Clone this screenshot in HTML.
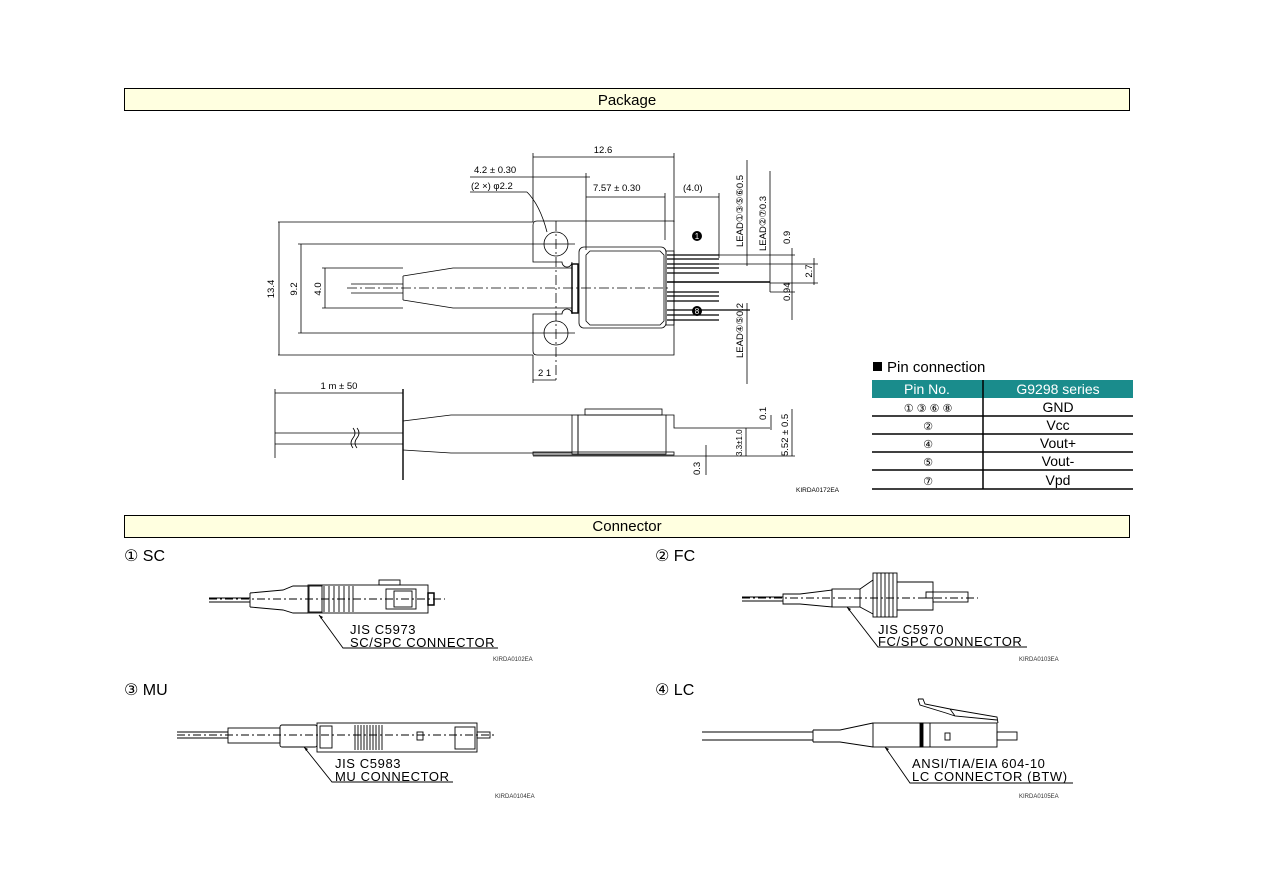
<!DOCTYPE html>
<html><head><meta charset="utf-8"><style>
html,body{margin:0;padding:0;background:#fff;}
svg{display:block;font-family:"Liberation Sans","DejaVu Sans",sans-serif;}
</style></head><body>
<svg width="1263" height="893" viewBox="0 0 1263 893" xmlns="http://www.w3.org/2000/svg">
<g stroke="#000" fill="none" stroke-width="1">
<rect x="124.5" y="88.5" width="1005" height="22" fill="#ffffe0"/>
<rect x="124.5" y="515.5" width="1005" height="22" fill="#ffffe0"/>
</g>
<text x="627" y="105" font-size="15" text-anchor="middle">Package</text>
<text x="627" y="531" font-size="15" text-anchor="middle">Connector</text>

<g stroke="#000" fill="none" stroke-width="0.8">
<line x1="533" y1="157" x2="674" y2="157"/>
<line x1="533" y1="153" x2="533" y2="222"/>
<line x1="674" y1="153" x2="674" y2="222"/>
<line x1="470" y1="177" x2="590" y2="177"/>
<line x1="586" y1="173" x2="586" y2="250"/>
<line x1="470" y1="192" x2="527" y2="192"/>
<path d="M527 192 Q540 205 547 232"/>
<line x1="586" y1="197" x2="665" y2="197"/>
<line x1="665" y1="193" x2="665" y2="240"/>
<line x1="675" y1="197" x2="719" y2="197"/>
<line x1="719" y1="193" x2="719" y2="258"/>
<path d="M537 221 H674 V355 H537 Q533 355 533 351 V314 H562 A5 5 0 0 1 572 314 M572 262 A5 5 0 0 1 562 262 H533 V225 Q533 221 537 221"/>
<circle cx="556" cy="244" r="12"/>
<circle cx="556" cy="333" r="12"/>
<rect x="579" y="247" width="87" height="81" rx="5"/>
<path d="M590 251 H660 L664 255 V321 L660 325 H590 L586 321 V255 Z"/>
<rect x="572" y="264" width="6" height="49" stroke-width="1.4"/>
<rect x="666" y="251" width="8" height="74"/>
<g stroke-width="1.2">
<line x1="667" y1="255" x2="719" y2="255"/><line x1="667" y1="259" x2="719" y2="259"/>
<line x1="667" y1="264" x2="719" y2="264"/><line x1="667" y1="268" x2="719" y2="268"/>
<line x1="667" y1="273" x2="719" y2="273"/>
<line x1="667" y1="282" x2="770" y2="282" stroke-width="1.6"/>
<line x1="667" y1="292" x2="719" y2="292"/><line x1="667" y1="296" x2="719" y2="296"/>
<line x1="667" y1="301" x2="719" y2="301"/><line x1="667" y1="310" x2="750" y2="310"/>
<line x1="667" y1="315" x2="719" y2="315"/><line x1="667" y1="320" x2="719" y2="320"/>
</g>
<path d="M403 276 L453 268 H572 M403 300 L453 308 H572 M403 276 V300" />
<line x1="351" y1="284" x2="403" y2="284"/>
<line x1="351" y1="293" x2="403" y2="293"/>
<line x1="347" y1="288" x2="668" y2="288" stroke-dasharray="10,3,2,3"/>
<line x1="556" y1="221" x2="556" y2="383" stroke-dasharray="10,3,2,3"/>
<line x1="278" y1="222" x2="533" y2="222"/>
<line x1="278" y1="355" x2="533" y2="355"/>
<line x1="279" y1="222" x2="279" y2="355"/>
<line x1="298" y1="244" x2="575" y2="244"/>
<line x1="298" y1="333" x2="575" y2="333"/>
<line x1="301" y1="244" x2="301" y2="333"/>
<line x1="322" y1="268" x2="403" y2="268"/>
<line x1="322" y1="308" x2="403" y2="308"/>
<line x1="325" y1="268" x2="325" y2="308"/>
<line x1="533" y1="355" x2="533" y2="383"/>
<line x1="533" y1="380" x2="556" y2="380"/>
<line x1="747" y1="160" x2="747" y2="266"/>
<line x1="770" y1="171" x2="770" y2="292"/>
<line x1="747" y1="303" x2="747" y2="384"/>
<line x1="719" y1="255" x2="795" y2="255"/>
<line x1="719" y1="264" x2="818" y2="264"/>
<line x1="770" y1="292" x2="795" y2="292"/>
<line x1="770" y1="283" x2="818" y2="283"/>
<line x1="792" y1="248" x2="792" y2="320"/>
<line x1="814" y1="258" x2="814" y2="285"/>
<line x1="735" y1="310" x2="750" y2="310"/>
</g>
<g font-size="9.5">
<text x="603" y="153" text-anchor="middle">12.6</text>
<text x="474" y="173">4.2 ± 0.30</text>
<text x="471" y="189">(2 ×) φ2.2</text>
<text x="593" y="191">7.57 ± 0.30</text>
<text x="683" y="191">(4.0)</text>
<text x="538" y="376">2 1</text>
<text transform="translate(274,289) rotate(-90)" text-anchor="middle">13.4</text>
<text transform="translate(297,289) rotate(-90)" text-anchor="middle">9.2</text>
<text transform="translate(321,289) rotate(-90)" text-anchor="middle">4.0</text>
<text transform="translate(743,247) rotate(-90)">LEAD①③⑤⑥0.5</text>
<text transform="translate(766,251) rotate(-90)">LEAD②⑦0.3</text>
<text transform="translate(743,358) rotate(-90)">LEAD④⑤0.2</text>
<text transform="translate(790,244) rotate(-90)">0.9</text>
<text transform="translate(812,271) rotate(-90)" text-anchor="middle">2.7</text>
<text transform="translate(790,301) rotate(-90)">0.94</text>
</g>
<circle cx="697" cy="236" r="5" fill="#000"/>
<text x="697" y="239" font-size="8" fill="#fff" text-anchor="middle">1</text>
<circle cx="697" cy="311" r="5" fill="#000"/>
<text x="697" y="314" font-size="8" fill="#fff" text-anchor="middle">8</text>

<g stroke="#000" fill="none" stroke-width="0.8">
<line x1="275" y1="393" x2="403" y2="393"/>
<line x1="275" y1="389" x2="275" y2="458"/>
<line x1="403" y1="389" x2="403" y2="480" stroke-width="1.4"/>
<line x1="275" y1="433" x2="403" y2="433"/>
<line x1="275" y1="444" x2="403" y2="444"/>
<path d="M353 428 q4 5 0 10 q-4 5 0 10 M357 428 q4 5 0 10 q-4 5 0 10"/>
<path d="M403 421 L451 415 H572 M403 450 L451 453 H572"/>
<rect x="572" y="415" width="6" height="39"/>
<rect x="578" y="415" width="88" height="39"/>
<rect x="585" y="409" width="77" height="6"/>
<path d="M666 415 H674 V428 H770" />
<rect x="533" y="452" width="141" height="3"/>
<line x1="533" y1="456" x2="674" y2="456"/>
<line x1="771" y1="415" x2="771" y2="430"/>
<line x1="792" y1="409" x2="792" y2="456"/>
<line x1="746" y1="428" x2="746" y2="456"/>
<line x1="674" y1="456" x2="795" y2="456"/>
<line x1="706" y1="445" x2="706" y2="475"/>
</g>
<g font-size="9.5">
<text x="339" y="389" text-anchor="middle">1 m ± 50</text>
<text transform="translate(766,420) rotate(-90)">0.1</text>
<text transform="translate(788,456) rotate(-90)">5.52 ± 0.5</text>
<text transform="translate(742,456) rotate(-90)" font-size="8">3.3±1.0</text>
<text transform="translate(700,475) rotate(-90)">0.3</text>
</g>
<text x="796" y="492" font-size="6.5">KIRDA0172EA</text>

<rect x="873" y="362" width="9" height="9" fill="#000"/>
<text x="887" y="372" font-size="15">Pin connection</text>
<rect x="872" y="380" width="261" height="18" fill="#1a8c8c"/>
<text x="927" y="394" font-size="14" fill="#fff" text-anchor="middle">Pin No.</text>
<text x="1058" y="394" font-size="14" fill="#fff" text-anchor="middle">G9298 series</text>
<g stroke="#000" stroke-width="1.5">
<line x1="983" y1="380" x2="983" y2="489"/>
<line x1="872" y1="416" x2="1133" y2="416"/>
<line x1="872" y1="434" x2="1133" y2="434"/>
<line x1="872" y1="452" x2="1133" y2="452"/>
<line x1="872" y1="470" x2="1133" y2="470"/>
<line x1="872" y1="489" x2="1133" y2="489"/>
</g>
<g font-size="14" text-anchor="middle">
<text x="928" y="412" font-size="11">① ③ ⑥ ⑧</text>
<text x="1058" y="412">GND</text>
<text x="928" y="430" font-size="11">②</text>
<text x="1058" y="430">Vcc</text>
<text x="928" y="448" font-size="11">④</text>
<text x="1058" y="448">Vout+</text>
<text x="928" y="466" font-size="11">⑤</text>
<text x="1058" y="466">Vout-</text>
<text x="928" y="485" font-size="11">⑦</text>
<text x="1058" y="485">Vpd</text>
</g>

<g font-size="16">
<text x="124" y="561">① SC</text>
<text x="655" y="561">② FC</text>
<text x="124" y="695">③ MU</text>
<text x="655" y="695">④ LC</text>
</g>
<g stroke="#000" fill="none" stroke-width="0.9">
<line x1="209" y1="598" x2="250" y2="598"/><line x1="209" y1="602" x2="250" y2="602"/>
<path d="M250 593 L283 590 L293 586 H308 M250 607 L283 610 L293 613 H308 M250 593 V607"/>
<rect x="308" y="585" width="120" height="28"/>
<rect x="309" y="586" width="13" height="26"/>
<path d="M324 586 V612 M329 586 V612 M334 586 V612 M339 586 V612 M344 586 V612 M349 586 V612 M353 586 V612"/>
<rect x="379" y="580" width="21" height="5"/>
<rect x="386" y="589" width="30" height="20"/>
<rect x="394" y="591" width="18" height="16"/>
<rect x="428" y="593" width="6" height="12" stroke-width="1.5"/>
<line x1="209" y1="599" x2="445" y2="599" stroke-dasharray="8,3,2,3"/>
<path d="M319 615 L343 648 H498"/>
<line x1="742" y1="597" x2="783" y2="597"/><line x1="742" y1="601" x2="783" y2="601"/>
<path d="M783 594 H800 L832 590 V607 L800 604 H783 Z"/>
<rect x="832" y="589" width="28" height="18"/>
<path d="M860 589 L873 580 M860 607 L873 614"/>
<rect x="873" y="573" width="24" height="44"/>
<path d="M877 573 V617 M881 573 V617 M885 573 V617 M889 573 V617 M893 573 V617"/>
<path d="M897 582 H933 V592 H926 V598 H933 V610 H897"/>
<rect x="933" y="592" width="35" height="10"/>
<line x1="742" y1="598" x2="978" y2="598" stroke-dasharray="8,3,2,3"/>
<path d="M847 607 L878 647 H1027"/>
<line x1="177" y1="732" x2="228" y2="732"/><line x1="177" y1="738" x2="228" y2="738"/>
<rect x="228" y="728" width="52" height="15"/>
<rect x="280" y="725" width="37" height="22" rx="2"/>
<rect x="317" y="723" width="160" height="29"/>
<rect x="320" y="726" width="12" height="22"/>
<path d="M355 725 V750 M358 725 V750 M361 725 V750 M364 725 V750 M367 725 V750 M370 725 V750 M373 725 V750 M376 725 V750 M379 725 V750 M382 725 V750"/>
<rect x="417" y="732" width="6" height="8"/>
<rect x="455" y="727" width="20" height="22"/>
<rect x="477" y="732" width="13" height="6"/>
<line x1="177" y1="735" x2="497" y2="735" stroke-dasharray="8,3,2,3"/>
<path d="M304 747 L332 782 H453"/>
<line x1="702" y1="732" x2="813" y2="732"/><line x1="702" y1="740" x2="813" y2="740"/>
<path d="M813 730 H840 L873 723 M813 742 H840 L873 747 M813 730 V742"/>
<rect x="873" y="723" width="124" height="24"/>
<rect x="920" y="723" width="3" height="24" fill="#000"/>
<line x1="930" y1="723" x2="930" y2="747"/>
<rect x="945" y="733" width="5" height="7"/>
<rect x="997" y="732" width="20" height="8"/>
<path d="M918 699 H923 L925 704 L950 709 L997 717 L998 723 M918 699 L920 705 L946 713 L955 716 M950 709 L955 716 L997 720"/>
<path d="M885 747 L910 783 H1073"/>
</g>
<polygon points="319,615 323,617 321,619" fill="#000"/>
<polygon points="847,607 851,609 849,611" fill="#000"/>
<polygon points="304,747 308,749 306,751" fill="#000"/>
<polygon points="885,747 889,749 887,751" fill="#000"/>
<g font-size="13" letter-spacing="0.6">
<text x="350" y="634">JIS C5973</text>
<text x="350" y="647">SC/SPC CONNECTOR</text>
<text x="878" y="634">JIS C5970</text>
<text x="878" y="646">FC/SPC CONNECTOR</text>
<text x="335" y="768">JIS C5983</text>
<text x="335" y="781">MU CONNECTOR</text>
<text x="912" y="768">ANSI/TIA/EIA 604-10</text>
<text x="912" y="781">LC CONNECTOR (BTW)</text>
</g>
<g font-size="6" fill="#333">
<text x="493" y="661">KIRDA0102EA</text>
<text x="1019" y="661">KIRDA0103EA</text>
<text x="495" y="798">KIRDA0104EA</text>
<text x="1019" y="798">KIRDA0105EA</text>
</g>
</svg>
</body></html>
